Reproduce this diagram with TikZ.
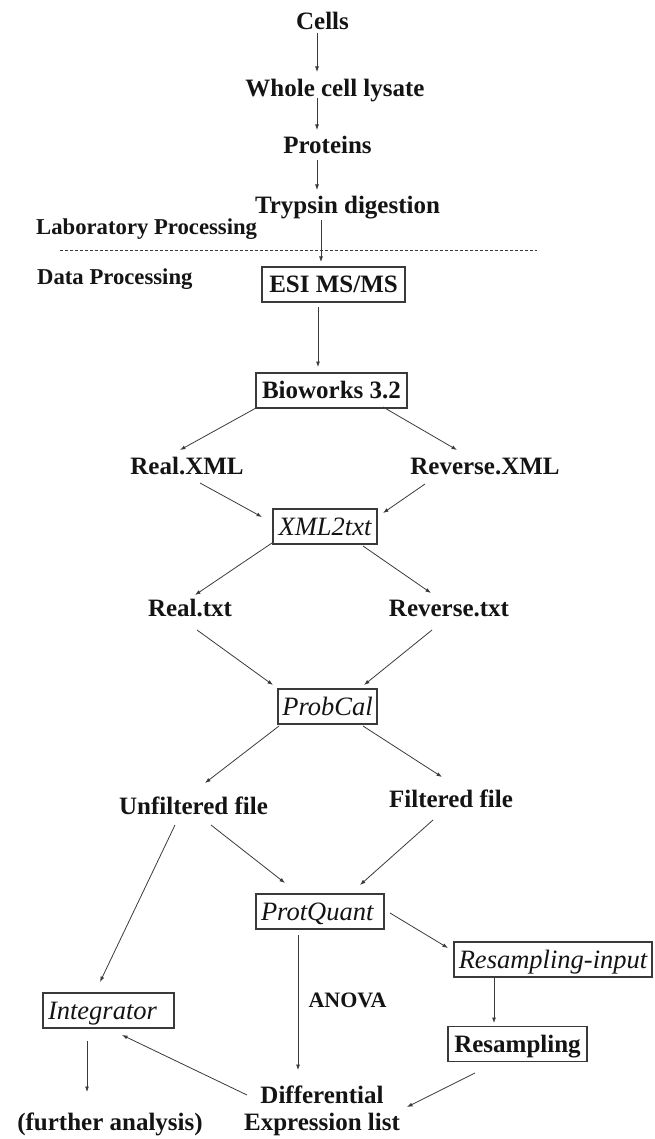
\documentclass[tikz,border=0pt]{standalone}
\usepackage{fontspec}
\setmainfont{Liberation Serif}
\usetikzlibrary{arrows.meta,calc}
\definecolor{ink}{HTML}{141414}
\definecolor{linec}{HTML}{3A3A3A}
\begin{document}
\begin{tikzpicture}[x=1pt,y=-1pt,
  lbl/.style={inner sep=0pt, font=\fontsize{25}{25}\selectfont\bfseries, text=ink, text height=16.5pt, text depth=0pt},
  side/.style={inner sep=0pt, font=\fontsize{22.7}{23}\selectfont\bfseries, text=ink, text height=15pt, text depth=0pt},
  anov/.style={inner sep=0pt, font=\fontsize{22}{22}\selectfont\bfseries, text=ink, text height=14.5pt, text depth=0pt},
  box/.style={draw=linec, line width=1.1pt, inner sep=0pt, minimum height=35pt, font=\fontsize{25}{25}\selectfont\bfseries, text=ink, text height=16.5pt, text depth=0pt},
  ibox/.style={box, font=\fontsize{26.5}{26.5}\selectfont\itshape, text height=17.5pt},
  arr/.style={draw=linec, line width=0.8pt, -{Latex[length=5.5pt,width=4pt]}},
  sep/.style={draw=linec, line width=0.7pt, dash pattern=on 3pt off 2pt},
]
\useasboundingbox (0,0) rectangle (655,1139);

% text nodes
\node[lbl] (cells) at (322.5,21) {Cells};
\node[lbl] (lysate) at (335,88) {Whole cell lysate};
\node[lbl] (proteins) at (327.5,145) {Proteins};
\node[lbl] (trypsin) at (347.5,205) {Trypsin digestion};
\node[side, anchor=west] (lab) at (36,227.5) {Laboratory Processing};
\node[side, anchor=west] (data) at (37,277.5) {Data Processing};
\coordinate (dl) at (60,250);
\coordinate (dr) at (537,250);
\draw[sep] (dl) -- (dr);

\node[box, minimum width=143pt] (esi) at (333.5,284.5) {ESI MS/MS};
\node[box, minimum width=151pt] (bio) at (331.5,390.5) {Bioworks 3.2};
\node[lbl] (realxml) at (187,466) {Real.XML};
\node[lbl] (revxml) at (485,466) {Reverse.XML};
\node[ibox, minimum width=104pt] (x2t) at (325,526.5) {XML2txt};
\node[lbl] (realtxt) at (190,608.5) {Real.txt};
\node[lbl] (revtxt) at (449,608.5) {Reverse.txt};
\node[ibox, minimum width=99pt] (probcal) at (327.5,706.5) {ProbCal};
\node[lbl] (unf) at (193.5,806) {Unfiltered file};
\node[lbl] (filt) at (451,799) {Filtered file};
\node[ibox, inner xsep=5pt, text width=118pt, align=left] (pq) at (320,911.5) {ProtQuant};
\node[anov] (anova) at (347.5,1000) {ANOVA};
\node[ibox, minimum width=198pt] (resin) at (553,959.5) {Resampling-input};
\node[box, minimum width=139pt] (resamp) at (517.5,1044) {Resampling};
\node[ibox, inner xsep=5pt, text width=121pt, align=left] (integ) at (108.5,1010.5) {Integrator};
\node[lbl] (further) at (110,1122) {(further analysis)};
\node[inner sep=0pt, font=\fontsize{25}{27}\selectfont\bfseries, text=ink, align=center, anchor=north] (diff) at (322,1086) {Differential\\Expression list};

% connectors
\draw[arr] ($(cells)+(-5.5,12)$) -- ($(lysate)+(-18,-16)$);
\draw[arr] ($(lysate)+(-18,10)$) -- ($(proteins)+(-10.5,-15)$);
\draw[arr] ($(proteins)+(-10.5,15)$) -- ($(trypsin)+(-30.5,-15)$);
\draw[arr] ($(trypsin)+(-26.5,15)$) -- ($(esi)+(-12.5,-22.5)$);
\draw[arr] ($(esi)+(-15.5,22.5)$) -- ($(bio)+(-13.5,-23.5)$);
\draw[arr] ($(bio)+(-75.5,17.5)$) -- ($(realxml)+(-7,-16)$);
\draw[arr] ($(bio)+(51.5,16.5)$) -- ($(revxml)+(-28,-16)$);
\draw[arr] ($(realxml)+(13,17)$) -- ($(x2t)+(-63,-9.5)$);
\draw[arr] ($(revxml)+(-60,18)$) -- ($(x2t)+(58,-13.5)$);
\draw[arr] ($(x2t)+(-53,16.5)$) -- ($(realtxt)+(5,-13.5)$);
\draw[arr] ($(x2t)+(38,19.5)$) -- ($(revtxt)+(-18,-15.5)$);
\draw[arr] ($(realtxt)+(7,21.5)$) -- ($(probcal)+(-54.5,-21.5)$);
\draw[arr] ($(revtxt)+(-17,21.5)$) -- ($(probcal)+(36.5,-21.5)$);
\draw[arr] ($(probcal)+(-48.5,19.5)$) -- ($(unf)+(11.5,-23)$);
\draw[arr] ($(probcal)+(35.5,19.5)$) -- ($(filt)+(-9,-22)$);
\draw[arr] ($(unf)+(17.5,19)$) -- ($(pq)+(-35,-28.5)$);
\draw[arr] ($(unf)+(-18.5,19)$) -- ($(integ)+(-8.5,-28.5)$);
\draw[arr] ($(filt)+(-18,21)$) -- ($(pq)+(40,-26.5)$);
\draw[arr] ($(pq)+(-22,23.5)$) -- ($(diff.north)+(-24,-16)$);
\draw[arr] ($(pq)+(70,1.5)$) -- ($(resin)+(-105,-11.5)$);
\draw[arr] ($(resin)+(-59,18.5)$) -- ($(resamp)+(-23.5,-21)$);
\draw[arr] ($(resamp)+(-42.5,29)$) -- ($(diff.north)+(85,21)$);
\draw[arr] ($(diff.north)+(-75,9)$) -- ($(integ)+(13.5,24.5)$);
\draw[arr] ($(integ)+(-21.5,30.5)$) -- ($(further)+(-23,-30)$);
\end{tikzpicture}
\end{document}
